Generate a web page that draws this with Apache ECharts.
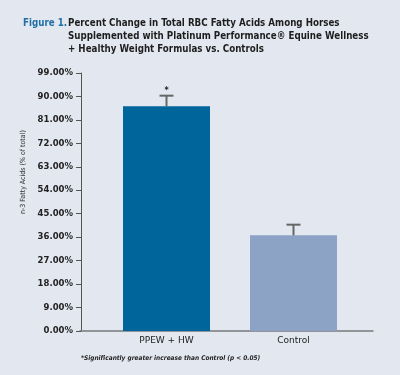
<!DOCTYPE html>
<html>
<head>
<meta charset="utf-8">
<script src="https://cdn.jsdelivr.net/npm/echarts@6/dist/echarts.min.js"></script>
<style>
  html, body { margin: 0; padding: 0; background: #e3e7f0; }
  #main { width: 400px; height: 375px; }
</style>
</head>
<body>
<div id="main"></div>
<script>
// 数据
var groups = ['PPEW + HW', 'Control'];
var means = [86.2, 36.7];        // 柱高
var errTop = [90.3, 40.8];       // 误差线顶端
var significant = [true, false]; // 星号
var yTicks = [0, 9, 18, 27, 36, 45, 54, 63, 72, 81, 90, 99];

var barColors = ['#00659b', '#8ca3c5'];
var narrow = '"DejaVu Sans Condensed", "DejaVu Sans", sans-serif';

var chart = echarts.init(document.getElementById('main'));

var option = {
  backgroundColor: '#e3e7f0',
  animation: false,
  title: [{
    text: 'Figure 1.',
    left: 18,
    top: 12,
    textStyle: { fontFamily: narrow, fontWeight: 'bold', fontSize: 9.7, color: '#1f6fa6', lineHeight: 13 }
  }, {
    text: 'Percent Change in Total RBC Fatty Acids Among Horses\nSupplemented with Platinum Performance® Equine Wellness\n+ Healthy Weight Formulas vs. Controls',
    left: 63,
    top: 12,
    textStyle: { fontFamily: narrow, fontWeight: 'bold', fontSize: 9.7, color: '#1e1e1e', lineHeight: 13 }
  }, {
    text: '*Significantly greater increase than Control (p < 0.05)',
    left: 76,
    top: 350,
    textStyle: { fontFamily: narrow, fontWeight: 'bold', fontStyle: 'italic', fontSize: 6.5, color: '#1e1e1e' }
  }],
  grid: [
    { left: 103, right: 43, top: 73, bottom: 44 },
    { left: 80, right: 27, top: 73, bottom: 44 }
  ],
  xAxis: [{
    type: 'category',
    gridIndex: 0,
    data: groups,
    axisLine: { show: false },
    axisTick: { show: false },
    axisLabel: { margin: 5, fontFamily: 'DejaVu Sans', fontSize: 9, color: '#222' }
  }, {
    type: 'value',
    gridIndex: 1,
    min: 0,
    max: 1,
    axisLine: { show: true, onZero: false, lineStyle: { color: '#7a7a7a', width: 1.5 } },
    axisTick: { show: false },
    axisLabel: { show: false },
    splitLine: { show: false }
  }],
  yAxis: [{
    type: 'value',
    gridIndex: 0,
    min: 0,
    max: 99,
    interval: 9,
    offset: 22,
    name: 'n-3 Fatty Acids (% of total)',
    nameLocation: 'middle',
    nameGap: 47,
    nameTextStyle: { fontFamily: narrow, fontSize: 7, color: '#333', padding: [0, 0, 0, 60] },
    axisLine: { show: true, lineStyle: { color: '#555', width: 1 } },
    axisTick: { show: true, length: 5, lineStyle: { color: '#555' } },
    axisLabel: {
      margin: 8,
      fontFamily: 'DejaVu Sans',
      fontWeight: 'bold',
      fontSize: 8.5,
      color: '#222',
      formatter: function (v) { return v.toFixed(2) + '%'; }
    },
    splitLine: { show: false }
  }, {
    type: 'value',
    gridIndex: 1,
    show: false,
    min: 0,
    max: 1
  }],
  series: [{
    type: 'bar',
    xAxisIndex: 0,
    yAxisIndex: 0,
    barWidth: 87,
    data: means.map(function (v, i) {
      return { value: v, itemStyle: { color: barColors[i] } };
    }),
    z: 2
  }, {
    type: 'custom',
    xAxisIndex: 0,
    yAxisIndex: 0,
    z: 3,
    data: means.map(function (v, i) { return [i, v, errTop[i], significant[i] ? 1 : 0]; }),
    renderItem: function (params, api) {
      var base = api.coord([api.value(0), api.value(1)]);
      var top = api.coord([api.value(0), api.value(2)]);
      var half = 7;
      var style = { stroke: '#666', lineWidth: 2 };
      var children = [
        { type: 'line', shape: { x1: base[0], y1: base[1], x2: top[0], y2: top[1] }, style: style },
        { type: 'line', shape: { x1: top[0] - half, y1: top[1], x2: top[0] + half, y2: top[1] }, style: style }
      ];
      if (api.value(3)) {
        children.push({
          type: 'text',
          style: {
            text: '*', x: top[0], y: top[1] - 1,
            align: 'center', verticalAlign: 'bottom',
            font: 'bold 8px "DejaVu Sans"', fill: '#222'
          }
        });
      }
      return { type: 'group', children: children };
    }
  }]
};

chart.setOption(option);
</script>
</body>
</html>
